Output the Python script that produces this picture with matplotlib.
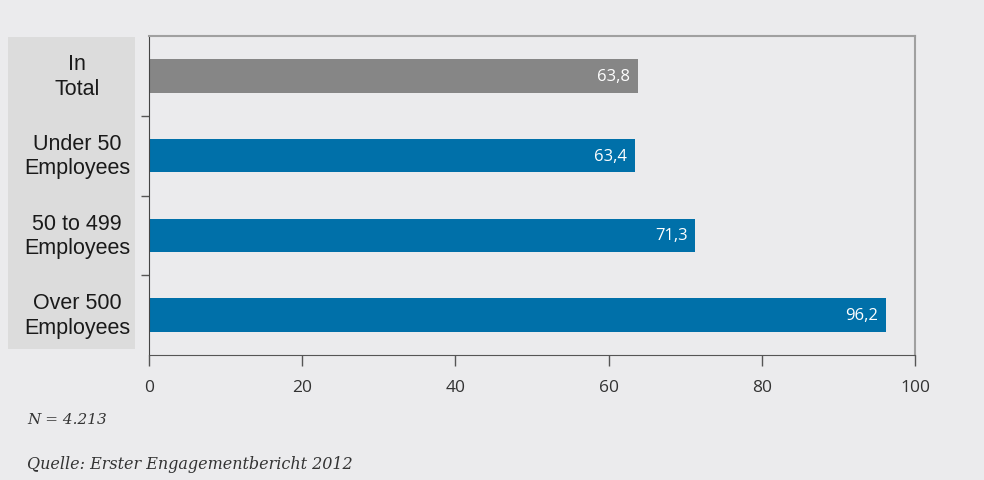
import matplotlib.pyplot as plt
from matplotlib.patches import Rectangle

categories = ['In\nTotal', 'Under 50\nEmployees', '50 to 499\nEmployees', 'Over 500\nEmployees']
values = [63.8, 63.4, 71.3, 96.2]
value_labels = ['63,8', '63,4', '71,3', '96,2']
bar_colors = ['#868686', '#0070a9', '#0070a9', '#0070a9']
xticks = [0, 20, 40, 60, 80, 100]

W, H = 984, 481
bg = '#ebebed'

fig = plt.figure(figsize=(9.84, 4.81), dpi=100)
fig.patch.set_facecolor(bg)

# grey panel behind the category labels
fig.patches.append(Rectangle((8 / W, 1 - 350 / H), 127 / W, 312 / H,
                             transform=fig.transFigure, facecolor='#dcdcdc',
                             edgecolor='none', zorder=0))

ax = fig.add_axes([149 / W, 1 - 356 / H, 766 / W, 319 / H])
ax.set_facecolor(bg)

pos = list(range(len(categories)))
ax.barh(pos, values, height=0.42, color=bar_colors, zorder=2)
ax.set_xlim(0, 100)
ax.set_ylim(3.5, -0.5)

for p, v, lab in zip(pos, values, value_labels):
    ax.text(v - 1.0, p, lab, ha='right', va='center', color='white',
            fontsize=12, family='Open Sans', zorder=3)

ax.set_yticks([0.5, 1.5, 2.5])
ax.set_yticklabels([])
ax.tick_params(axis='y', length=6, color='#555555', width=1)
ax.set_xticks(xticks)
ax.set_xticklabels([str(t) for t in xticks], family='Open Sans', fontsize=12.5, color='#333333')
ax.tick_params(axis='x', length=8, color='#555555', width=1, pad=9)

for s in ['top', 'right']:
    ax.spines[s].set_color('#a0a0a0')
    ax.spines[s].set_linewidth(1.5)
ax.spines['left'].set_color('#444444')
ax.spines['bottom'].set_color('#555555')

for p, c in zip(pos, categories):
    y = ax.transData.transform((0, p))[1]
    fig.text(77 / W, y / H, c, ha='center', va='center', fontsize=15.5,
             family='Liberation Sans', color='#1a1a1a', linespacing=1.22,
             transform=fig.transFigure)

fig.text(27 / W, 1 - 420 / H, 'N = 4.213', family='DejaVu Serif', style='italic',
         fontsize=11, color='#333333', va='center')
fig.text(27 / W, 1 - 465 / H, 'Quelle: Erster Engagementbericht 2012', family='DejaVu Serif',
         style='italic', fontsize=11.5, color='#333333', va='center')

fig.savefig('out.png', dpi=100, facecolor=bg)
